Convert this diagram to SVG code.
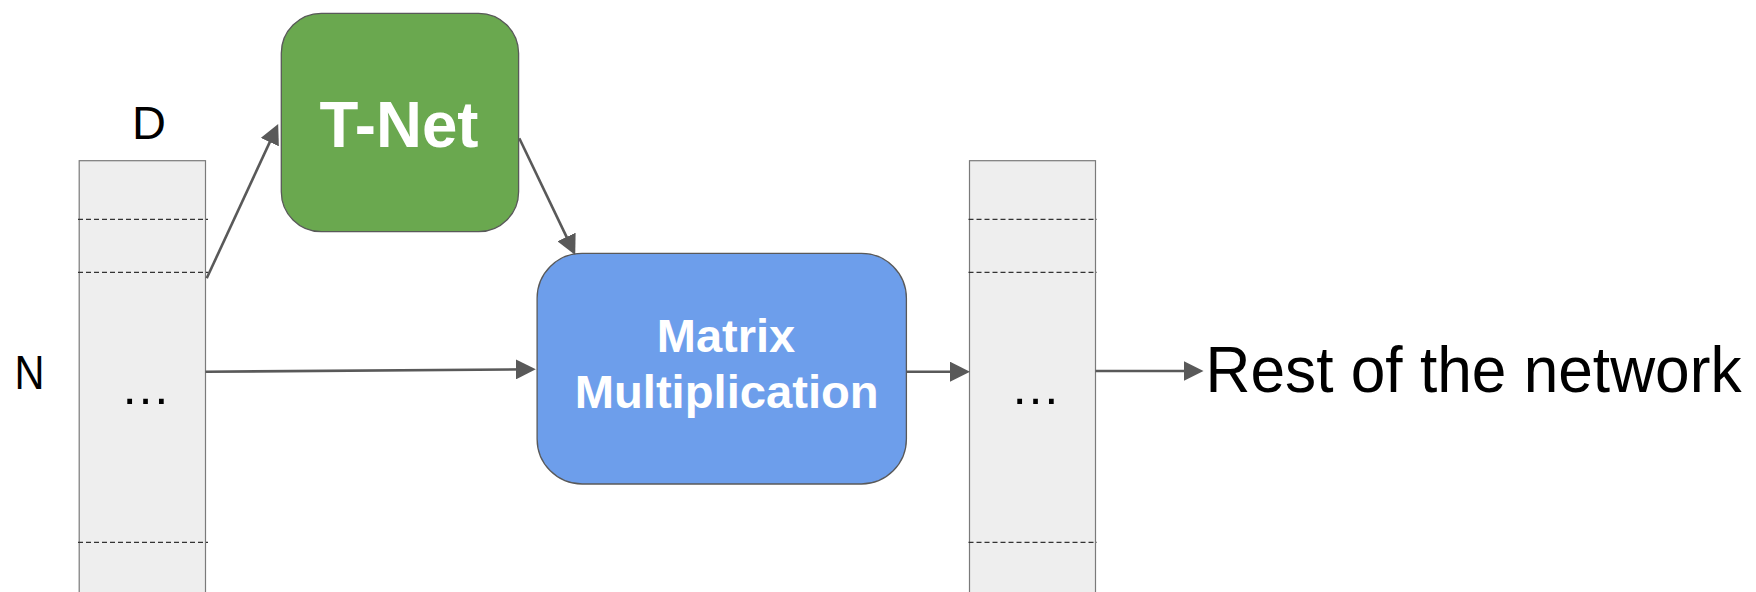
<svg xmlns="http://www.w3.org/2000/svg" width="1756" height="592" viewBox="0 0 1756 592">
  <style>
    .col { fill: #eeeeee; stroke: #7a7a7a; stroke-width: 1.2; }
    .dash { stroke: #333333; stroke-width: 1.2; stroke-dasharray: 5 3; fill: none; }
    .box { stroke: #595959; stroke-width: 1.3; }
    .wire { stroke: #595959; stroke-width: 2.6; fill: none; marker-end: url(#head); }
    .lbl { font-family: "Liberation Sans", Arial, Helvetica, sans-serif; fill: #000000; }
    .dots { font-family: "Liberation Sans", Arial, Helvetica, sans-serif; fill: #000000; font-size: 50px; text-anchor: middle; }
    .bold { font-family: "Liberation Sans", Arial, Helvetica, sans-serif; font-weight: bold; fill: #ffffff; text-anchor: middle; }
  </style>
  <defs>
    <marker id="head" markerUnits="userSpaceOnUse" viewBox="0 0 20 20" markerWidth="20" markerHeight="20" refX="16" refY="10" orient="auto">
      <path d="M0,0 L20,10 L0,20 z" fill="#595959"/>
    </marker>
  </defs>
  <rect width="1756" height="592" fill="#ffffff"/>

  <!-- input point matrix N x D -->
  <g id="input-points">
    <rect class="col" x="79.2" y="160.7" width="126.3" height="440"/>
    <line class="dash" x1="78" y1="219.3" x2="208" y2="219.3"/>
    <line class="dash" x1="78" y1="272.3" x2="208" y2="272.3"/>
    <line class="dash" x1="78" y1="542.3" x2="208" y2="542.3"/>
    <text class="dots" x="145.5" y="404">…</text>
  </g>
  <g id="label-d">
    <text class="lbl" x="149" y="139" font-size="47" text-anchor="middle">D</text>
  </g>
  <g id="label-n">
    <text class="lbl" x="14.5" y="389.3" font-size="48" textLength="30" lengthAdjust="spacingAndGlyphs">N</text>
  </g>

  <!-- transform network -->
  <g id="tnet">
    <rect class="box" x="281.3" y="13.3" width="237.3" height="218.4" rx="40" ry="40" fill="#6aa84f"/>
    <text class="bold" x="399" y="146.7" font-size="65" textLength="159" lengthAdjust="spacingAndGlyphs">T-Net</text>
  </g>

  <!-- matrix multiplication -->
  <g id="matmul">
    <rect class="box" x="537.1" y="253.3" width="369.3" height="230.7" rx="45" ry="45" fill="#6d9eeb"/>
    <text class="bold" x="726" y="351.7" font-size="47">Matrix</text>
    <text class="bold" x="726.7" y="408.3" font-size="47" textLength="304" lengthAdjust="spacingAndGlyphs">Multiplication</text>
  </g>

  <!-- transformed point matrix -->
  <g id="output-points">
    <rect class="col" x="969.5" y="160.7" width="126" height="440"/>
    <line class="dash" x1="968.5" y1="219.3" x2="1097" y2="219.3"/>
    <line class="dash" x1="968.5" y1="272.3" x2="1097" y2="272.3"/>
    <line class="dash" x1="968.5" y1="542.3" x2="1097" y2="542.3"/>
    <text class="dots" x="1035.6" y="404">…</text>
  </g>

  <g id="rest">
    <text class="lbl" x="1205.5" y="392.3" font-size="65" textLength="536" lengthAdjust="spacingAndGlyphs">Rest of the network</text>
  </g>

  <!-- connectors -->
  <g id="connectors">
    <line class="wire" x1="206.7" y1="278.3" x2="276.5" y2="127.6"/>
    <line class="wire" x1="519.3" y1="138.3" x2="573.5" y2="251.4"/>
    <line class="wire" x1="205.5" y1="371.7" x2="531.8" y2="369.3"/>
    <line class="wire" x1="906.4" y1="371.7" x2="966" y2="371.7"/>
    <line class="wire" x1="1095.5" y1="371" x2="1199.5" y2="371"/>
  </g>
</svg>
